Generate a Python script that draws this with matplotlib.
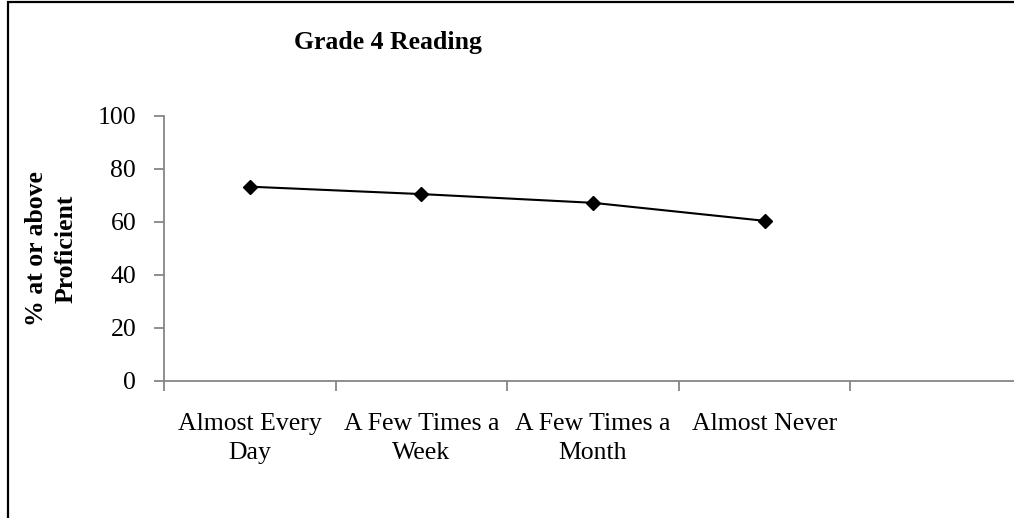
import matplotlib
matplotlib.use("Agg")
import matplotlib.pyplot as plt
from matplotlib.patches import Rectangle

# chart data
categories = ["Almost Every\nDay", "A Few Times a\nWeek", "A Few Times a\nMonth", "Almost Never", ""]
pct_proficient = [73.3, 70.5, 67.2, 60.4]
y_ticks = [0, 20, 40, 60, 80, 100]

plt.rcParams['font.family'] = ['Liberation Serif', 'DejaVu Serif']
axis_grey = '#868686'
fs = 18.5

fig = plt.figure(figsize=(10.14, 5.18), dpi=100)

# outer chart border (cropped at right and bottom like the original)
fig.patches.append(Rectangle((7.5 / 1014, -0.1), 1.2, 1.1 - 2.5 / 518,
                             transform=fig.transFigure, fill=False,
                             edgecolor='black', linewidth=1.6))

ax = fig.add_axes([164 / 1014, 137.3 / 518, (1022 - 164) / 1014, 264.7 / 518])

ax.plot(range(len(pct_proficient)), pct_proficient, color='black', linewidth=1.5,
        marker='D', markersize=7.3, markerfacecolor='black', markeredgecolor='black',
        clip_on=False)

ax.set_xlim(-0.5, len(categories) - 0.5)
ax.set_ylim(0, 100)
ax.set_yticks(y_ticks)
ax.set_yticklabels([str(v) for v in y_ticks], fontsize=fs)

# category ticks sit between the labels
ax.set_xticks([i - 0.5 for i in range(len(categories))])
ax.set_xticklabels([])
ax.set_xticks(range(len(categories)), minor=True)
ax.set_xticklabels(categories, minor=True, fontsize=fs, linespacing=1.45)
ax.tick_params(axis='x', which='minor', length=0, pad=23)
ax.tick_params(axis='x', which='major', length=7, width=1.3, color=axis_grey, direction='out')
ax.tick_params(axis='y', length=7, width=1.3, color=axis_grey, direction='out', pad=13)

for side in ['top', 'right']:
    ax.spines[side].set_visible(False)
for side in ['left', 'bottom']:
    ax.spines[side].set_color(axis_grey)
    ax.spines[side].set_linewidth(1.3)

ax.set_ylabel("% at or above\nProficient", fontsize=fs, fontweight='bold', linespacing=1.35)
ax.yaxis.label.set_verticalalignment('center')
ax.yaxis.set_label_coords(-113 / 858, 0.5)

fig.text(388 / 1014, 1 - 42 / 518, "Grade 4 Reading", fontsize=fs, fontweight='bold',
         ha='center', va='center')

fig.savefig("out.png", dpi=100)
